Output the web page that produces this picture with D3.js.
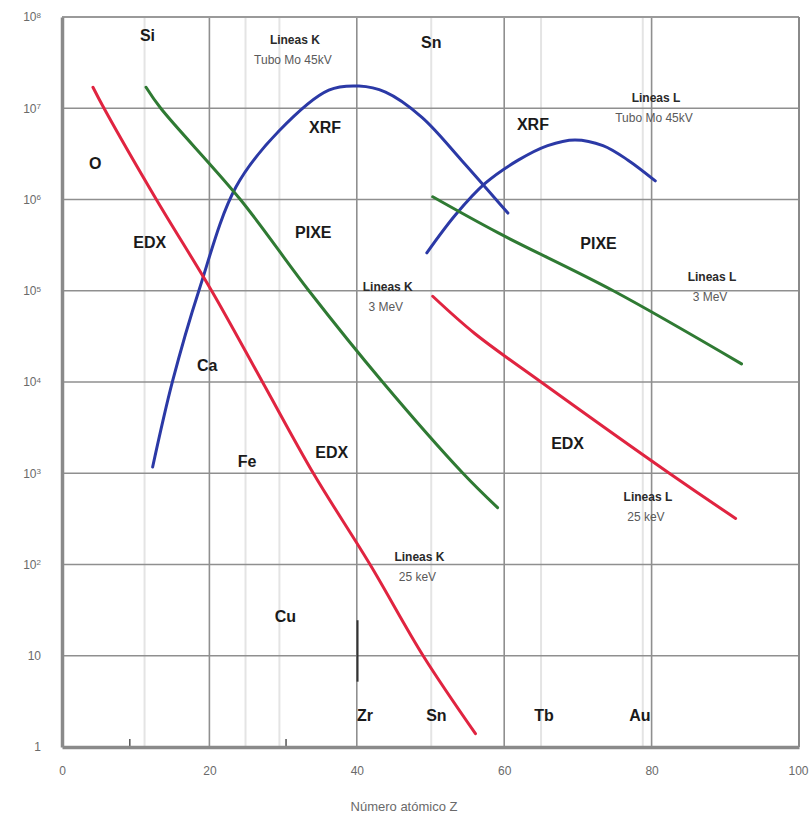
<!DOCTYPE html>
<html>
<head>
<meta charset="utf-8">
<script src="https://cdn.jsdelivr.net/npm/d3@7"></script>
<style>
  html, body { margin: 0; padding: 0; background: #fff; }
  svg { display: block; font-family: "Liberation Sans", Arial, sans-serif; }
</style>
</head>
<body>
<svg id="chart" width="810" height="822"></svg>
<script>
// Detection limits vs atomic number Z (log scale), for K and L lines.
const xTicks = [0, 20, 40, 60, 80, 100];
const yTicks = [1, 10, 1e2, 1e3, 1e4, 1e5, 1e6, 1e7, 1e8];

// EDX, K lines, 25 keV
const edxKZ = [4.2, 5.7, 12.8, 20.3, 27.2, 34.1, 41.8, 49.0, 56.1];
const edxKV = [1.7e7, 1.0e7, 1.0e6, 1.0e5, 1.0e4, 1.0e3, 100, 10, 1.4];
// EDX, L lines, 25 keV
const edxLZ = [50.3, 56.0, 65.0, 82.4, 91.4];
const edxLV = [8.7e4, 3.4e4, 1.0e4, 1.0e3, 3.2e2];
// PIXE, K lines, 3 MeV
const pixeKZ = [11.4, 13.4, 24.2, 33.5, 43.5, 54.4, 59.1];
const pixeKV = [1.7e7, 1.0e7, 1.0e6, 1.0e5, 1.0e4, 1.0e3, 4.2e2];
// PIXE, L lines, 3 MeV
const pixeLZ = [50.3, 59.2, 74.8, 92.2];
const pixeLV = [1.07e6, 4.3e5, 1.0e5, 1.58e4];
// XRF, K lines, Mo tube 45 kV
const xrfKZ = [12.3, 15.0, 18.6, 23.6, 29.5, 36.2, 40.3, 43.9, 48.8, 54.2, 60.5];
const xrfKV = [1.17e3, 1.02e4, 1.02e5, 1.37e6, 5.7e6, 1.58e7, 1.75e7, 1.5e7, 8.0e6, 2.7e6, 7.1e5];
// XRF, L lines, Mo tube 45 kV
const xrfLZ = [49.5, 53.4, 57.4, 61.9, 65.9, 69.6, 73.4, 76.8, 80.5];
const xrfLV = [2.6e5, 6.8e5, 1.5e6, 2.7e6, 3.9e6, 4.5e6, 3.9e6, 2.7e6, 1.6e6];

// Faint reference lines at selected elements
const elemLineZ = [11.2, 24.9, 29.5, 50.1, 65.0, 78.8];
// Element names and where they are written
const elemNames = ["Si", "Sn", "O", "Ca", "Fe", "Cu", "Zr", "Sn", "Tb", "Au"];
const elemZ     = [11.6, 50.1, 4.5, 19.7, 25.1, 30.3, 41.1, 50.8, 65.4, 78.4];
const elemV     = [6.3e7, 5.2e7, 2.45e6, 1.5e4, 1.36e3, 27, 2.2, 2.2, 2.2, 2.2];
// Technique names
const techNames = ["XRF", "XRF", "EDX", "PIXE", "PIXE", "EDX", "EDX"];
const techZ     = [35.7, 63.9, 11.9, 34.1, 72.8, 36.6, 68.6];
const techV     = [6.2e6, 6.6e6, 3.4e5, 4.3e5, 3.3e5, 1.7e3, 2.1e3];
// Two-line notes: line type and excitation
const noteTitle = ["Lineas K", "Lineas L", "Lineas K", "Lineas L", "Lineas K", "Lineas L"];
const noteSub   = ["Tubo Mo 45kV", "Tubo Mo 45kV", "3 MeV", "3 MeV", "25 keV", "25 keV"];
const noteZ     = [31.6, 80.6, 44.2, 88.2, 48.5, 79.5];
const noteV     = [5.6e7, 1.3e7, 1.1e5, 1.4e5, 1.2e2, 5.5e2];
// Zr marker and small axis ticks
const zrMarkZ = 40.1, zrMarkV = [5.2, 24.5];
const smallTickZ = [9.2, 30.4];

const svg = d3.select("#chart");
const x = d3.scaleLinear().domain([0, 100]).range([62, 799]);
const y = d3.scaleLog().domain([1, 1e8]).range([747, 17]);

const gridColor = "#8f8f8f";

// faint element lines
svg.append("g").selectAll("line").data(elemLineZ).join("line")
  .attr("x1", d => x(d)).attr("x2", d => x(d))
  .attr("y1", y(1e8)).attr("y2", y(1))
  .attr("stroke", "#e4e4e4").attr("stroke-width", 2);

// grid
svg.append("g").selectAll("line").data(yTicks.slice(1, -1)).join("line")
  .attr("x1", x(0)).attr("x2", x(100))
  .attr("y1", d => y(d)).attr("y2", d => y(d))
  .attr("stroke", gridColor).attr("stroke-width", 1.6);
svg.append("g").selectAll("line").data(xTicks.slice(1, -1)).join("line")
  .attr("x1", d => x(d)).attr("x2", d => x(d))
  .attr("y1", y(1e8)).attr("y2", y(1))
  .attr("stroke", gridColor).attr("stroke-width", 1.6);

// frame
svg.append("line").attr("x1", x(0)).attr("x2", x(100)).attr("y1", y(1e8)).attr("y2", y(1e8))
  .attr("stroke", "#9a9a9a").attr("stroke-width", 2);
svg.append("line").attr("x1", x(100)).attr("x2", x(100)).attr("y1", y(1e8)).attr("y2", y(1))
  .attr("stroke", "#8a8a8a").attr("stroke-width", 2);

// Zr marker and short ticks
svg.append("line").attr("x1", x(zrMarkZ)).attr("x2", x(zrMarkZ))
  .attr("y1", y(zrMarkV[0])).attr("y2", y(zrMarkV[1]))
  .attr("stroke", "#333").attr("stroke-width", 2);
svg.append("g").selectAll("line").data(smallTickZ).join("line")
  .attr("x1", d => x(d)).attr("x2", d => x(d))
  .attr("y1", y(1) - 8).attr("y2", y(1))
  .attr("stroke", "#555").attr("stroke-width", 1.5);

// axes
const xAxis = svg.append("g").attr("transform", `translate(0,${y(1)})`)
  .call(d3.axisBottom(x).tickValues(xTicks).tickSize(0).tickPadding(19));
const yAxis = svg.append("g").attr("transform", `translate(${x(0)},0)`)
  .call(d3.axisLeft(y).tickValues(yTicks).tickSize(0).tickPadding(21));
[xAxis, yAxis].forEach(g => {
  g.select(".domain").attr("stroke", "#8a8a8a").attr("stroke-width", 3.5);
  g.selectAll("text").attr("fill", "#6a6a6a").attr("font-size", 12)
    .attr("font-family", "'Liberation Sans', Arial, sans-serif");
});
xAxis.selectAll(".tick text").filter(d => d === 100).attr("text-anchor", "end").attr("dx", 9);
yAxis.selectAll(".tick text").each(function(d) {
  const e = Math.round(Math.log10(d));
  const t = d3.select(this).text(null);
  if (e === 0) { t.text("1"); return; }
  t.append("tspan").text("10");
  if (e > 1) t.append("tspan").attr("dy", "-0.45em").attr("font-size", 8).text(e);
});

svg.append("text").attr("x", 404).attr("y", 811).attr("text-anchor", "middle")
  .attr("fill", "#6a6a6a").attr("font-size", 13).text("Número atómico Z");

// curves
const series = [
  { z: xrfKZ, v: xrfKV, c: "#2b39a6" },
  { z: xrfLZ, v: xrfLV, c: "#2b39a6" },
  { z: pixeKZ, v: pixeKV, c: "#2f7a33" },
  { z: pixeLZ, v: pixeLV, c: "#2f7a33" },
  { z: edxKZ, v: edxKV, c: "#e02440" },
  { z: edxLZ, v: edxLV, c: "#e02440" }
];
const line = d3.line().x(d => x(d[0])).y(d => y(d[1])).curve(d3.curveCatmullRom.alpha(0.5));
svg.append("g").selectAll("path").data(series).join("path")
  .attr("d", s => line(d3.zip(s.z, s.v)))
  .attr("fill", "none").attr("stroke", s => s.c)
  .attr("stroke-width", 3).attr("stroke-linecap", "round");

// labels
const bold = (t, cx, cy, size) => svg.append("text")
  .attr("x", cx).attr("y", cy).attr("text-anchor", "middle").attr("dominant-baseline", "central")
  .attr("font-weight", "bold").attr("font-size", size).attr("fill", "#1a1a1a").text(t);

elemNames.forEach((n, i) => bold(n, x(elemZ[i]), y(elemV[i]), 16));
techNames.forEach((n, i) => bold(n, x(techZ[i]), y(techV[i]), 16));
noteTitle.forEach((n, i) => {
  bold(n, x(noteZ[i]), y(noteV[i]), 12).attr("fill", "#2a2a2a");
  svg.append("text").attr("x", x(noteZ[i]) - 2).attr("y", y(noteV[i]) + 20)
    .attr("text-anchor", "middle").attr("dominant-baseline", "central")
    .attr("font-size", 12).attr("fill", "#5a5a5a").text(noteSub[i]);
});
</script>
</body>
</html>
